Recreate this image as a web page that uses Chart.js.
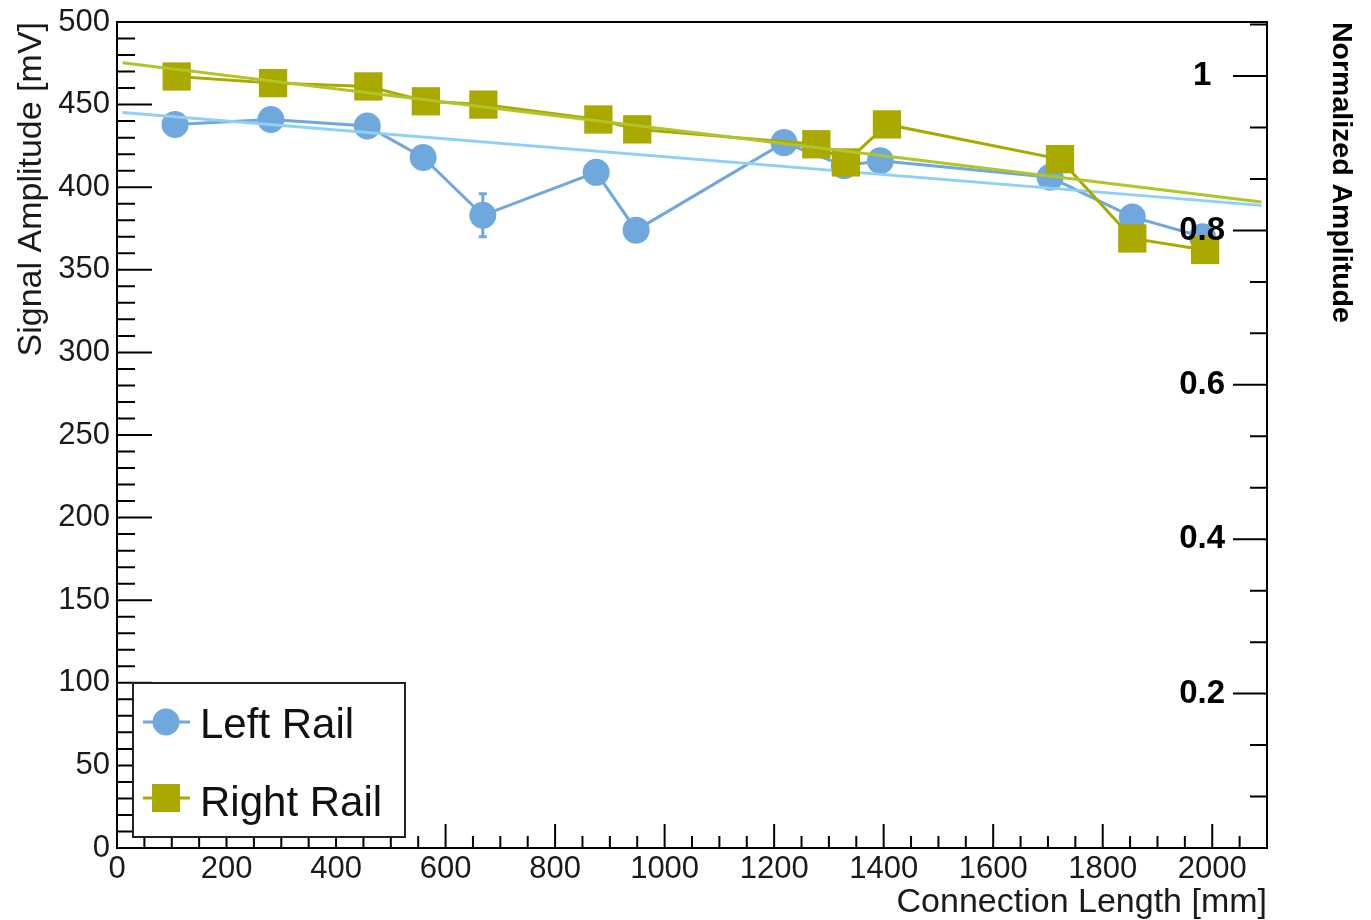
<!DOCTYPE html>
<html>
<head>
<meta charset="utf-8">
<script src="https://cdn.jsdelivr.net/npm/chart.js@4.4.1/dist/chart.umd.min.js"></script>
<style>
  html, body { margin: 0; padding: 0; background: #fff; }
  #wrap { width: 1371px; height: 920px; }
</style>
</head>
<body>
<div id="wrap"><canvas id="chart" width="1371" height="920"></canvas></div>
<script>
/* ── Data ─────────────────────────────────────────────────────── */
const leftLength  = [106, 281, 457, 559, 668, 875, 948, 1218, 1328, 1394, 1704, 1854, 1982];
const leftAmp     = [438, 441, 437, 418, 383, 409, 374, 427, 413, 416, 406, 382, 370];
const leftErr     = [4, 4, 4, 4, 13, 4, 4, 4, 4, 4, 4, 4, 4];

const rightLength = [109, 285, 459, 564, 669, 879, 950, 1277, 1331, 1406, 1722, 1854, 1987];
const rightAmp    = [467, 463, 461, 452, 450, 441, 435, 426, 415, 438, 417, 369, 362];

const leftFitX  = [10, 2090];
const leftFitY  = [445.2, 389.0];
const rightFitX = [10, 2090];
const rightFitY = [475.3, 391.0];

const xTicks  = [0, 200, 400, 600, 800, 1000, 1200, 1400, 1600, 1800, 2000];
const yTicks  = [0, 50, 100, 150, 200, 250, 300, 350, 400, 450, 500];
const y2Ticks = [0.2, 0.4, 0.6, 0.8, 1];

const X_MAX = 2100, Y_MAX = 500, Y2_MAX = 1.07;

/* ── Colours ──────────────────────────────────────────────────── */
const BLUE = "#6fa8dc";
const BLUE_FIT = "#8fd0f5";
const OLIVE = "#a9a900";
const OLIVE_FIT = "#b3c429";
const FONT = "'Liberation Sans', Arial, sans-serif";

const pts = (xs, ys) => xs.map((x, i) => ({ x, y: ys[i] }));

/* ── Error bars, drawn under the markers ─────────────────────── */
const errorBars = {
    id: "errorBars",
    beforeDatasetsDraw(chart) {
        const { ctx, scales } = chart;
        ctx.save();
        ctx.strokeStyle = BLUE;
        ctx.lineWidth = 3;
        leftLength.forEach((x, i) => {
            const px = scales.x.getPixelForValue(x);
            const top = scales.y.getPixelForValue(leftAmp[i] + leftErr[i]);
            const bot = scales.y.getPixelForValue(leftAmp[i] - leftErr[i]);
            ctx.beginPath();
            ctx.moveTo(px, top); ctx.lineTo(px, bot);
            ctx.moveTo(px - 4, top); ctx.lineTo(px + 4, top);
            ctx.moveTo(px - 4, bot); ctx.lineTo(px + 4, bot);
            ctx.stroke();
        });
        ctx.restore();
    }
};

/* ── ROOT style frame with inward ticks ──────────────────────── */
const rootAxes = {
    id: "rootAxes",
    afterDatasetsDraw(chart) {
        const { ctx, chartArea: a, scales } = chart;
        ctx.save();
        ctx.strokeStyle = "#000";
        ctx.lineWidth = 2;
        ctx.beginPath();
        for (let k = 0; k * 50 <= X_MAX; k++) {
            const px = scales.x.getPixelForValue(k * 50);
            const len = k % 4 === 0 ? 24 : 12;
            ctx.moveTo(px, a.bottom); ctx.lineTo(px, a.bottom - len);
        }
        for (let k = 0; k * 10 <= Y_MAX; k++) {
            const py = scales.y.getPixelForValue(k * 10);
            const len = k % 5 === 0 ? 35 : 18;
            ctx.moveTo(a.left, py); ctx.lineTo(a.left + len, py);
        }
        for (let k = 0; k * 0.2 / 3 <= Y2_MAX; k++) {
            const py = scales.y2.getPixelForValue(k * 0.2 / 3);
            const len = k % 3 === 0 ? 34 : 17;
            ctx.moveTo(a.right, py); ctx.lineTo(a.right - len, py);
        }
        ctx.stroke();
        ctx.strokeRect(a.left, a.top, a.width, a.height);
        ctx.restore();
    }
};

/* ── Legend box in the lower left corner ─────────────────────── */
const rootLegend = {
    id: "rootLegend",
    afterDraw(chart) {
        const { ctx, chartArea: a } = chart;
        const bx = a.left + 16, by = a.bottom - 165, bw = 272, bh = 154;
        ctx.save();
        ctx.fillStyle = "#fff";
        ctx.fillRect(bx, by, bw, bh);
        ctx.strokeStyle = "#222";
        ctx.lineWidth = 2;
        ctx.strokeRect(bx, by, bw, bh);

        const rows = [
            { label: chart.data.datasets[0].label, color: BLUE, shape: "circle", cy: by + 39, base: by + 55 },
            { label: chart.data.datasets[2].label, color: OLIVE, shape: "square", cy: by + 115, base: by + 133 },
        ];
        rows.forEach(r => {
            const mx = bx + 33;
            ctx.strokeStyle = r.color;
            ctx.lineWidth = 3;
            ctx.beginPath();
            ctx.moveTo(bx + 10, r.cy); ctx.lineTo(bx + 57, r.cy);
            ctx.stroke();
            ctx.fillStyle = r.color;
            if (r.shape === "circle") {
                ctx.beginPath();
                ctx.arc(mx, r.cy, 13.5, 0, Math.PI * 2);
                ctx.fill();
            } else {
                ctx.fillRect(mx - 14, r.cy - 14, 28, 28);
            }
            ctx.fillStyle = "#111";
            ctx.font = "42px " + FONT;
            ctx.textBaseline = "alphabetic";
            ctx.textAlign = "left";
            ctx.fillText(r.label, bx + 67, r.base);
        });
        ctx.restore();
    }
};

new Chart(document.getElementById("chart"), {
    type: "scatter",
    data: {
        datasets: [
            {
                label: "Left Rail",
                data: pts(leftLength, leftAmp),
                showLine: true,
                borderColor: BLUE,
                borderWidth: 3,
                backgroundColor: BLUE,
                pointBackgroundColor: BLUE,
                pointBorderWidth: 0,
                pointStyle: "circle",
                pointRadius: 13.5,
                order: 4,
            },
            {
                label: "Left Fit",
                data: pts(leftFitX, leftFitY),
                showLine: true,
                borderColor: BLUE_FIT,
                borderWidth: 3,
                pointRadius: 0,
                order: 3,
            },
            {
                label: "Right Rail",
                data: pts(rightLength, rightAmp),
                showLine: true,
                borderColor: OLIVE,
                borderWidth: 3,
                backgroundColor: OLIVE,
                pointBackgroundColor: OLIVE,
                pointBorderWidth: 0,
                pointStyle: "rect",
                pointRadius: 20,
                order: 2,
            },
            {
                label: "Right Fit",
                data: pts(rightFitX, rightFitY),
                showLine: true,
                borderColor: OLIVE_FIT,
                borderWidth: 3,
                pointRadius: 0,
                order: 1,
            },
        ]
    },
    options: {
        responsive: false,
        animation: false,
        devicePixelRatio: 1,
        layout: { padding: { top: 22, left: 0, right: 0, bottom: 0 } },
        plugins: {
            legend: { display: false },
            tooltip: { enabled: false },
        },
        scales: {
            x: {
                type: "linear",
                position: "bottom",
                min: 0, max: X_MAX,
                afterBuildTicks: s => { s.ticks = xTicks.map(v => ({ value: v })); },
                afterFit: s => { s.height = 72; s.paddingLeft = 0; s.paddingRight = 0; },
                grid: { display: false, drawTicks: false },
                border: { display: false },
                ticks: {
                    color: "#1a1a1a", padding: 3, maxRotation: 0, autoSkip: false,
                    font: { family: FONT, size: 31 },
                    callback: v => String(v),
                },
                title: {
                    display: true, text: "Connection Length [mm]", align: "end",
                    color: "#1a1a1a", padding: { top: 0, bottom: 0 },
                    font: { family: FONT, size: 34, lineHeight: 1 },
                },
            },
            y: {
                type: "linear",
                position: "left",
                min: 0, max: Y_MAX,
                afterBuildTicks: s => { s.ticks = yTicks.map(v => ({ value: v })); },
                afterFit: s => { s.width = 117; s.paddingTop = 0; s.paddingBottom = 0; },
                grid: { display: false, drawTicks: false },
                border: { display: false },
                ticks: {
                    color: "#1a1a1a", padding: 7, autoSkip: false,
                    font: { family: FONT, size: 31 },
                    callback: v => String(v),
                },
                title: {
                    display: true, text: "Signal Amplitude [mV]", align: "end",
                    color: "#1a1a1a", padding: { top: 11, bottom: 0 },
                    font: { family: FONT, size: 34 },
                },
            },
            y2: {
                type: "linear",
                position: "right",
                min: 0, max: Y2_MAX,
                afterBuildTicks: s => { s.ticks = y2Ticks.map(v => ({ value: v })); },
                afterFit: s => { s.width = 104; s.paddingTop = 0; s.paddingBottom = 0; },
                grid: { display: false, drawTicks: false },
                border: { display: false },
                ticks: {
                    z: 1,
                    mirror: true, padding: -42, crossAlign: "center", color: "#000", autoSkip: false,
                    font: { family: FONT, size: 33, weight: "bold" },
                    callback: v => (v === 1 ? "1" : v.toFixed(1)),
                },
                title: {
                    display: true, text: "Normalized Amplitude", align: "end",
                    color: "#000", padding: { top: 13, bottom: 0 },
                    font: { family: FONT, size: 28.5, weight: "bold" },
                },
            },
        }
    },
    plugins: [errorBars, rootAxes, rootLegend],
});
</script>
</body>
</html>
